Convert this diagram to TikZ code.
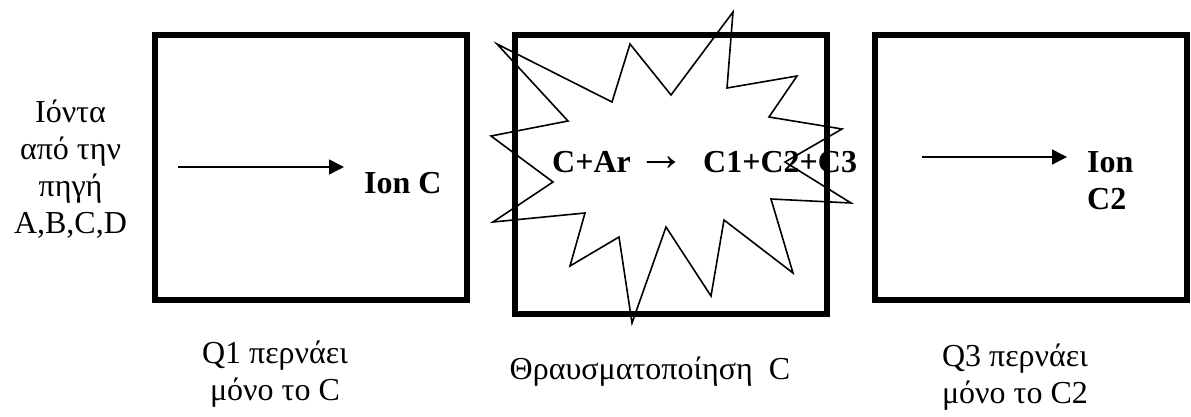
\documentclass[tikz,border=0pt]{standalone}
\usepackage{fontspec}
\setmainfont{Liberation Serif}
\usetikzlibrary{arrows.meta,positioning}
\begin{document}
\begin{tikzpicture}[
  x=1pt,y=-1pt,
  cell/.style={draw,line width=6pt,minimum width=312pt,minimum height=265pt,inner sep=0pt},
  lab/.style={font=\fontsize{32}{37}\selectfont,align=center,inner sep=0pt},
  ion/.style={font=\fontsize{32}{37}\selectfont\bfseries,align=left,inner sep=0pt},
  arr/.style={-{Triangle[length=15pt,width=15pt]},line width=1.6pt},
  burst/.style={draw,line width=1.6pt,line join=miter}
]
  \useasboundingbox (0,0) rectangle (1191,417);
  \node[cell] (q1) at (310.5,167.5) {};
  \node[cell,minimum height=279pt] (q2) at (670.5,174.5) {};
  \node[cell] (q3) at (1030.5,167.5) {};

  \node[lab] (src) at (70.5,169) {Ιόντα\\από την\\πηγή\\A,B,C,D};
  \node[ion,anchor=base west] (ionc) at (364,193) {Ion C};
  \node[ion,anchor=base west] (react) at (552,172) {C+Ar};
  \node[lab,anchor=base,font=\fontsize{48}{48}\selectfont] (to) at (661,170.5) {→};
  \node[ion,anchor=base west] (frag) at (703,172) {C1+C2+C3};
  \node[ion,anchor=north west] (ionc2) at (1087,151) {Ion\\C2};

  \coordinate (a1) at (178,167);
  \coordinate (b1) at (344,167);
  \coordinate (a3) at (922,157);
  \coordinate (b3) at (1067,157);
  \draw[arr] (a1) -- (b1);
  \draw[arr] (a3) -- (b3);

  % star drawn over the text
  \draw[burst] (497,44) -- (568,121) -- (491,136) -- (553,182) -- (493,222)
    -- (585,213) -- (570,266) -- (619,237) -- (632,323) -- (666,227)
    -- (711,296) -- (724,220) -- (793,273) -- (771,199) -- (851,203)
    -- (785,162) -- (842,129) -- (769,117) -- (797,76) -- (727,88)
    -- (733,12) -- (671,95) -- (630,44) -- (612,102) -- cycle;

  \node[lab] (q1txt) at (275,374) {Q1 περνάει\\μόνο το C};
  \node[lab,anchor=base] (q2txt) at (650,379) {Θραυσματοποίηση\ \ C};
  \node[lab] (q3txt) at (1015,377) {Q3 περνάει\\μόνο το C2};
\end{tikzpicture}
\end{document}
